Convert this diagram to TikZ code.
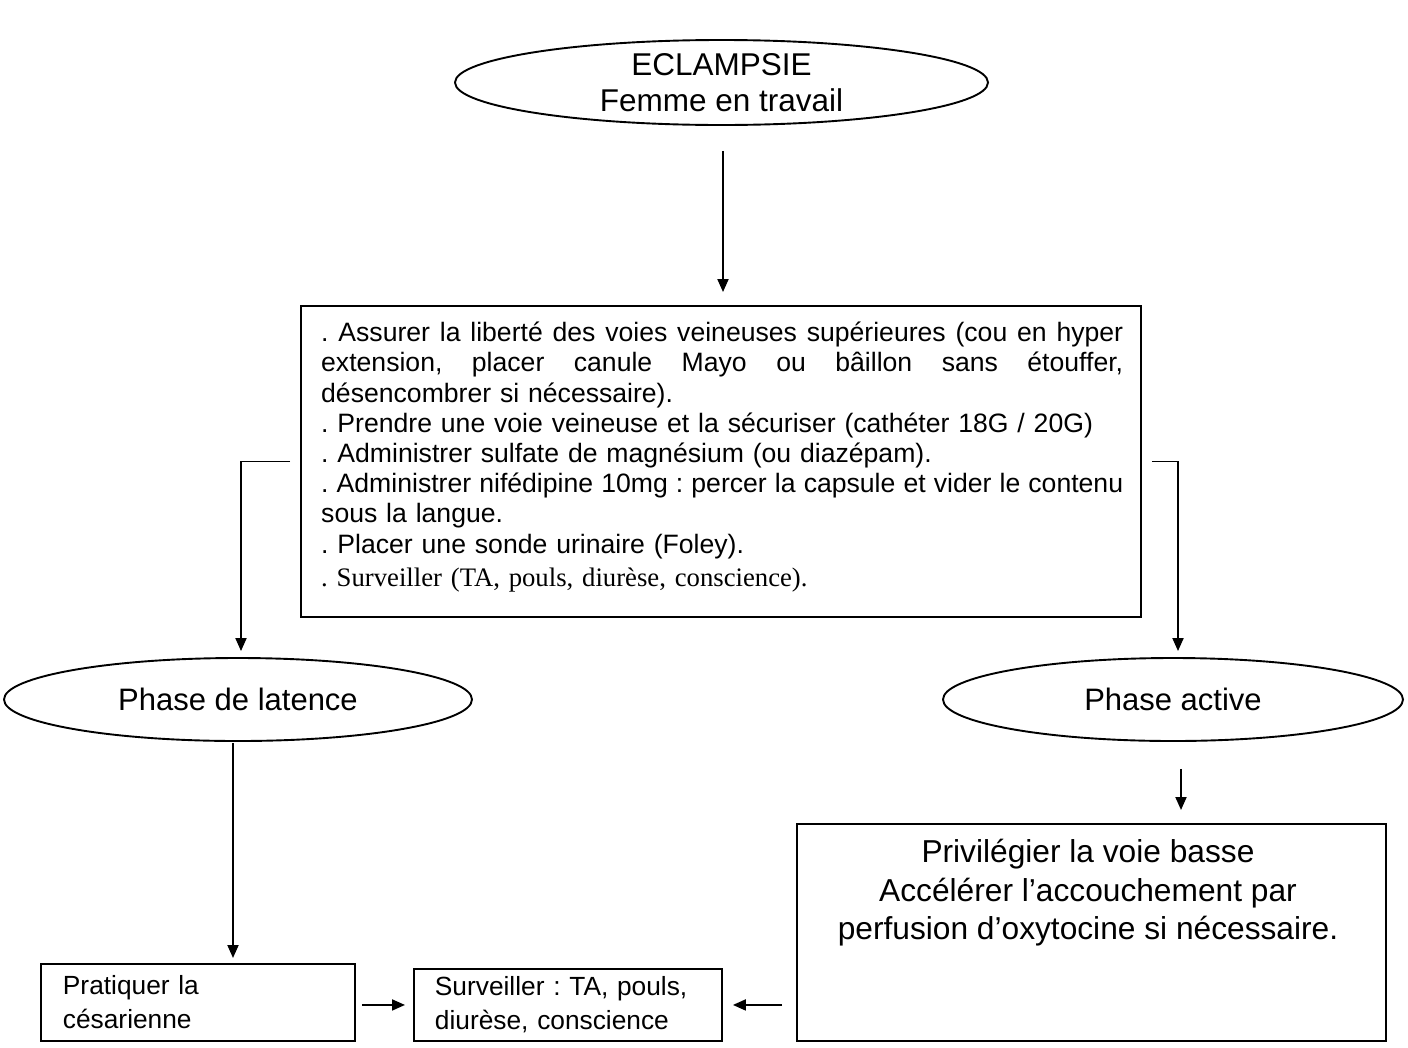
\documentclass[tikz,border=0pt]{standalone}
\usepackage{fontspec}
\setmainfont{Liberation Sans}
\newfontfamily\timesfont{Liberation Serif}
\usetikzlibrary{shapes.geometric,arrows.meta,calc}
\newcommand{\jline}[1]{\leavevmode\hbox to 802pt{\spaceskip=0.278em plus 1fil\relax #1}}
\begin{document}
\frenchspacing
\begin{tikzpicture}[x=1pt,y=-1pt,
  lw/.style={line width=1.9pt},
  oval/.style={draw, lw, ellipse, inner sep=0pt, align=center},
  boxnode/.style={draw, lw, rectangle, inner sep=0pt},
  arr/.style={lw, -{Triangle[length=13pt,width=11pt]}}]
\useasboundingbox (0,0) rectangle (1408,1047);

\node[oval, minimum width=533pt, minimum height=85pt, font=\fontsize{31.5}{36}\selectfont] (top) at (721.5,82.5) {ECLAMPSIE\\Femme en travail};

\node[boxnode, minimum width=840pt, minimum height=311pt] (main) at (721,461.5) {};
\node[anchor=north west, inner sep=0pt, text width=802pt, align=left, font=\fontsize{26.6}{30.2}\selectfont] (maintxt) at (321,322) {%
\jline{. Assurer la liberté des voies veineuses supérieures (cou en hyper}\\
\jline{extension, placer canule Mayo ou bâillon sans étouffer,}\\
désencombrer si nécessaire).\\
. Prendre une voie veineuse et la sécuriser (cathéter 18G / 20G)\\
. Administrer sulfate de magnésium (ou diazépam).\\
\jline{. Administrer nifédipine 10mg : percer la capsule et vider le contenu}\\
sous la langue.\\
. Placer une sonde urinaire (Foley).\\[3.5pt]
{\timesfont\fontsize{26.7}{30}\selectfont . Surveiller (TA, pouls, diurèse, conscience).}};

\node[oval, minimum width=468pt, minimum height=83pt, font=\fontsize{31}{36}\selectfont] (lat) at (238,699.5) {Phase de latence};
\node[oval, minimum width=460pt, minimum height=83pt, font=\fontsize{31}{36}\selectfont] (act) at (1173,699.5) {Phase active};

\node[boxnode, anchor=north west, minimum width=314pt, minimum height=77pt, text width=270pt, inner xsep=22pt, align=left, font=\fontsize{26.3}{34}\selectfont] (pra) at (40,963) {Pratiquer la\\césarienne};
\node[boxnode, anchor=north west, minimum width=308pt, minimum height=72pt, text width=266pt, inner xsep=21pt, align=left, font=\fontsize{26.3}{34}\selectfont] (sur) at (413,968) {Surveiller : TA, pouls,\\diurèse, conscience};

\node[boxnode, anchor=north west, minimum width=589pt, minimum height=217pt] (pri) at (796,823) {};
\node[anchor=north, inner sep=0pt, align=center, font=\fontsize{31.7}{38.5}\selectfont] (pritxt) at (1088,839) {Privilégier la voie basse\\Accélérer l’accouchement par\\perfusion d’oxytocine si nécessaire.};

\draw[arr, shorten <=25pt, shorten >=13pt] ([xshift=1.5pt]top.south) -- ([xshift=1.5pt]top.south |- main.north);
\draw[arr, shorten <=10pt, shorten >=6pt] (main.west) -| ([xshift=3pt]lat.north);
\draw[arr, shorten <=10pt, shorten >=6pt] (main.east) -| ([xshift=5pt]act.north);
\draw[arr, shorten <=1pt, shorten >=5pt] ([xshift=-5pt]lat.south) -- ([xshift=-5pt]lat.south |- pra.north);
\draw[arr, shorten <=27pt, shorten >=13pt] ([xshift=8pt]act.south) -- ([xshift=8pt]act.south |- pri.north);
\draw[arr, shorten <=6pt, shorten >=8pt] (sur.west -| pra.east) -- (sur.west);
\draw[arr, shorten <=14pt, shorten >=10pt] (sur.east -| pri.west) -- (sur.east);
\end{tikzpicture}
\end{document}
